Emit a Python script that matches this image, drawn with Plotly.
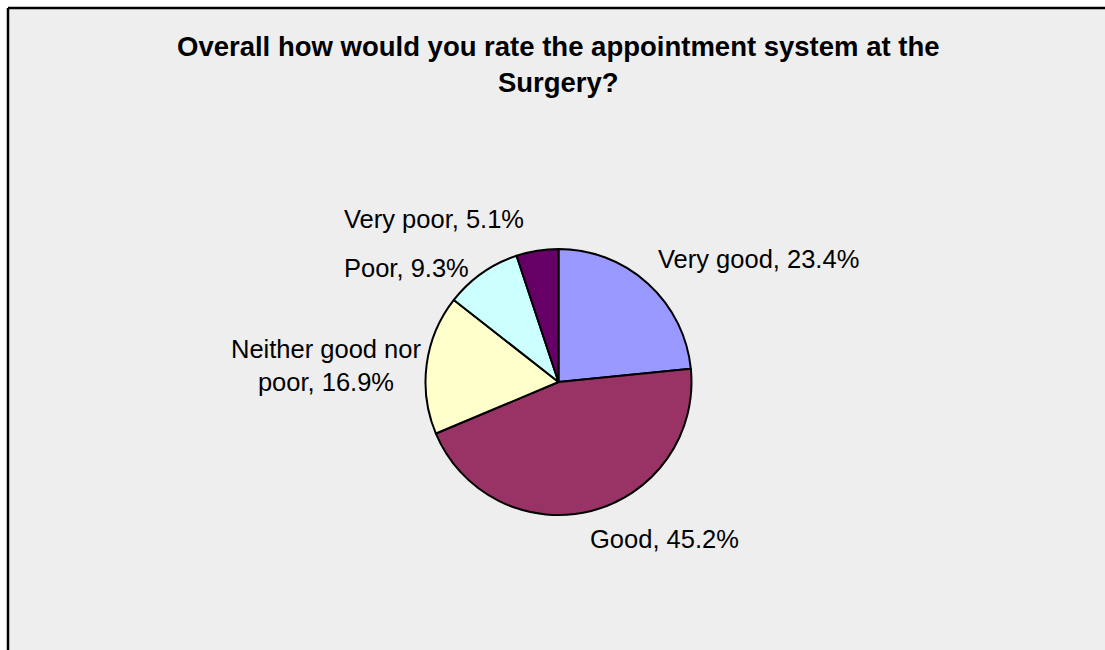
import textwrap
import plotly.graph_objects as go

# Survey responses
categories = ["Very good", "Good", "Neither good nor poor", "Poor", "Very poor"]
percentages = [23.4, 45.2, 16.9, 9.3, 5.1]
slice_colors = ["#9999FF", "#993366", "#FFFFCC", "#CCFFFF", "#660066"]
title_text = "Overall how would you rate the appointment system at the<br>Surgery?"

W, H = 1105, 650


def px_x(x):
    return x / W


def px_y(y):
    return 1 - y / H


fig = go.Figure()

# Pie centred at (558, 382) with radius ~133 px
cx, cy, r = 558.5, 382, 133
fig.add_trace(go.Pie(
    labels=categories,
    values=percentages,
    sort=False,
    direction="clockwise",
    rotation=0,
    marker=dict(colors=slice_colors, line=dict(color="black", width=2)),
    textinfo="none",
    hoverinfo="label+percent",
    showlegend=False,
    domain=dict(x=[px_x(cx - r), px_x(cx + r)], y=[px_y(cy + r), px_y(cy - r)]),
))

# Outside labels: (x px, y px, xanchor)
label_pos = [
    (656, 259, "left"),
    (588, 539, "left"),
    (326, 365, "center"),
    (342, 268, "left"),
    (342, 219, "left"),
]
annotations = []
for cat, val, (lx, ly, anchor) in zip(categories, percentages, label_pos):
    txt = "<br>".join(textwrap.wrap(f"{cat}, {val}%", width=16))
    annotations.append(dict(
        text=txt, x=px_x(lx), y=px_y(ly), xref="paper", yref="paper",
        xanchor=anchor, yanchor="middle", align="center", showarrow=False,
        font=dict(family="Liberation Sans, Arial", size=25.5, color="black"),
    ))

annotations.append(dict(
    text=title_text, x=px_x(558), y=px_y(29), xref="paper", yref="paper",
    xanchor="center", yanchor="top", align="center", showarrow=False,
    font=dict(family="Liberation Sans, Arial", size=27.5, color="black", weight="bold"),
))

# Grey chart area; white strips above and left of the black frame
frame = dict(color="black", width=2.5)
shapes = [
    dict(type="rect", xref="paper", yref="paper", layer="below",
         x0=0, x1=1, y0=px_y(8), y1=1, fillcolor="white", line=dict(width=0)),
    dict(type="rect", xref="paper", yref="paper", layer="below",
         x0=0, x1=px_x(8), y0=0, y1=1, fillcolor="white", line=dict(width=0)),
    dict(type="line", xref="paper", yref="paper", layer="below",
         x0=px_x(8), x1=1, y0=px_y(8), y1=px_y(8), line=frame),
    dict(type="line", xref="paper", yref="paper", layer="below",
         x0=px_x(8), x1=px_x(8), y0=0, y1=px_y(8), line=frame),
]

fig.update_layout(
    width=W, height=H,
    margin=dict(l=0, r=0, t=0, b=0),
    paper_bgcolor="#EEEEEE",
    plot_bgcolor="#EEEEEE",
    annotations=annotations,
    shapes=shapes,
)

fig.write_html("out.html", config={"displayModeBar": False})
